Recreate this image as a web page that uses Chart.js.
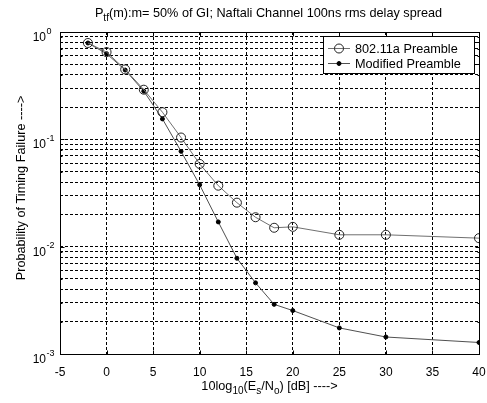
<!DOCTYPE html>
<html>
<head>
<meta charset="utf-8">
<script src="https://cdn.jsdelivr.net/npm/chart.js@4/dist/chart.umd.min.js"></script>
<style>
html,body{margin:0;padding:0;background:#fff;}
#wrap{width:487px;height:403px;position:relative;}
</style>
</head>
<body>
<div id="wrap"><canvas id="c" width="487" height="403"></canvas></div>
<script>
// ---- data ----
const snrDb = [-2, 0, 2, 4, 6, 8, 10, 12, 14, 16, 18, 20, 25, 30, 40];
const preamble80211a = [0.79, 0.65, 0.448, 0.29, 0.179, 0.104, 0.059, 0.037, 0.0257, 0.0188, 0.015, 0.0153, 0.0129, 0.0129, 0.012];
const modifiedPreamble = [0.79, 0.628, 0.442, 0.281, 0.155, 0.0773, 0.0377, 0.017, 0.0078, 0.0046, 0.0029, 0.00254, 0.00175, 0.00144, 0.00128];
const seriesNames = ['802.11a Preamble', 'Modified Preamble'];
const xTickValues = [-5, 0, 5, 10, 15, 20, 25, 30, 35, 40];
const yDecades = [-3, -2, -1, 0];
const yMinorMultipliers = [1, 2, 3, 4, 5, 6, 7, 8, 9];

const FONT = '"Liberation Sans", Arial, sans-serif';
const FS = 12.7;

function toPts(xs, ys){ return xs.map((x,i)=>({x:x, y:ys[i]})); }

function segFont(k, size){ return (k==='n'? size : Math.round(size*0.75)) + 'px ' + FONT; }
function richWidth(ctx, segs, size){
  let w=0; segs.forEach(s=>{ctx.font=segFont(s.k,size); w+=ctx.measureText(s.t).width;}); return w;
}
function drawRich(ctx, segs, x, y, size, align){
  let w = richWidth(ctx, segs, size);
  let cx = align==='center' ? x - w/2 : x;
  ctx.textAlign='left'; ctx.textBaseline='alphabetic';
  segs.forEach(s=>{
    ctx.font=segFont(s.k,size);
    let dy = s.k==='sub' ? size*0.3 : (s.k==='sup' ? -size*0.45 : 0);
    ctx.fillText(s.t, cx, y+dy);
    cx += ctx.measureText(s.t).width;
  });
}

const decor = {
  id:'decor',
  beforeDraw(chart){
    const ctx=chart.ctx; ctx.save(); ctx.fillStyle='#fff'; ctx.fillRect(0,0,chart.width,chart.height); ctx.restore();
  },
  afterDraw(chart){
    const ctx=chart.ctx, a=chart.chartArea, xs=chart.scales.x, ys=chart.scales.y;
    ctx.save();
    ctx.strokeStyle='#000'; ctx.lineWidth=1; ctx.setLineDash([]);
    const l=Math.round(a.left)+0.5, r=Math.round(a.right)+0.5, t=Math.round(a.top)+0.5, b=Math.round(a.bottom)+0.5;
    ctx.strokeRect(l,t,r-l,b-t);
    ctx.beginPath();
    xs.ticks.forEach(tk=>{const px=Math.round(xs.getPixelForValue(tk.value))+0.5; ctx.moveTo(px,b); ctx.lineTo(px,b-4); ctx.moveTo(px,t); ctx.lineTo(px,t+4);});
    ys.ticks.forEach(tk=>{const py=Math.round(ys.getPixelForValue(tk.value))+0.5; const len = (Math.abs(Math.log10(tk.value)%1)<1e-9)?4:2; ctx.moveTo(l,py); ctx.lineTo(l+len,py); ctx.moveTo(r,py); ctx.lineTo(r-len,py);});
    ctx.stroke();
    ctx.fillStyle='#000';
    ctx.font='12px '+FONT; ctx.textAlign='center'; ctx.textBaseline='alphabetic';
    xTickValues.forEach(v=>{ ctx.fillText(String(v), xs.getPixelForValue(v), 376); });
    yDecades.forEach(d=>{
      const py=ys.getPixelForValue(Math.pow(10,d));
      ctx.font='12px '+FONT; ctx.textAlign='right'; ctx.textBaseline='alphabetic';
      ctx.fillText('10', 46, py+9);
      ctx.font='9px '+FONT; ctx.textAlign='left';
      ctx.fillText(String(d), 46.5, py+1.5);
    });
    drawRich(ctx, [{t:'P',k:'n'},{t:'tf',k:'sub'},{t:'(m):m= 50% of GI; Naftali Channel 100ns rms delay spread',k:'n'}], (a.left+a.right)/2 - 1, 17, FS, 'center');
    drawRich(ctx, [{t:'10log',k:'n'},{t:'10',k:'sub'},{t:'(E',k:'n'},{t:'s',k:'sub'},{t:'/N',k:'n'},{t:'o',k:'sub'},{t:') [dB] ---->',k:'n'}], (a.left+a.right)/2, 390, FS, 'center');
    ctx.save(); ctx.translate(25, (a.top+a.bottom)/2 - 5); ctx.rotate(-Math.PI/2);
    ctx.font=FS+'px '+FONT; ctx.textAlign='center'; ctx.textBaseline='alphabetic';
    ctx.fillText('Probability of Timing Failure ---->', 0, 0);
    ctx.restore();
    // legend
    const lx=323.5, ly=36.5, lw=151, lh=37;
    ctx.fillStyle='#fff'; ctx.fillRect(lx,ly,lw,lh);
    ctx.strokeStyle='#000'; ctx.strokeRect(lx,ly,lw,lh);
    const rows=[{y:48.5, ds:chart.data.datasets[0]},{y:63.5, ds:chart.data.datasets[1]}];
    rows.forEach((row,i)=>{
      ctx.strokeStyle=row.ds.borderColor; ctx.lineWidth=1;
      ctx.beginPath(); ctx.moveTo(328,row.y); ctx.lineTo(350,row.y); ctx.stroke();
      ctx.beginPath(); ctx.arc(339,row.y,row.ds.pointRadius,0,Math.PI*2);
      if(i===1){ctx.fillStyle='#000'; ctx.fill();}
      ctx.strokeStyle=row.ds.pointBorderColor; ctx.stroke();
      ctx.fillStyle='#000'; ctx.font=FS+'px '+FONT; ctx.textAlign='left'; ctx.textBaseline='middle';
      ctx.fillText(seriesNames[i], 355, row.y+0.5);
    });
    ctx.restore();
  }
};

new Chart(document.getElementById('c'), {
  type:'line',
  data:{
    datasets:[
      {label:seriesNames[0], data:toPts(snrDb, preamble80211a), borderColor:'#707070', borderWidth:1,
       pointStyle:'circle', pointRadius:4.5, pointBackgroundColor:'rgba(0,0,0,0)', pointBorderColor:'#222', pointBorderWidth:1, tension:0},
      {label:seriesNames[1], data:toPts(snrDb, modifiedPreamble), borderColor:'#505050', borderWidth:1,
       pointStyle:'circle', pointRadius:2, pointBackgroundColor:'#000', pointBorderColor:'#000', pointBorderWidth:1, tension:0}
    ]
  },
  options:{
    responsive:false, animation:false, devicePixelRatio:1,
    layout:{padding:{top:32, right:8, left:0, bottom:0}},
    plugins:{legend:{display:false}, title:{display:false}, tooltip:{enabled:false}},
    scales:{
      x:{type:'linear', min:-5, max:40,
         afterBuildTicks(s){ s.ticks = xTickValues.map(v=>({value:v})); },
         afterFit(s){ s.height = 49; },
         ticks:{display:false},
         grid:{color:'#000', lineWidth:1, drawTicks:false},
         border:{display:false, dash:[3,2]}},
      y:{type:'logarithmic', min:0.001, max:1,
         afterBuildTicks(s){ const t=[]; yDecades.forEach(d=>{ yMinorMultipliers.forEach(m=>{ const v=m*Math.pow(10,d); if(v<=1.0000001) t.push({value:v}); }); }); s.ticks=t; },
         afterFit(s){ s.width = 60; },
         ticks:{display:false},
         grid:{color:'#000', lineWidth:1, drawTicks:false},
         border:{display:false, dash:[3,2]}}
    }
  },
  plugins:[decor]
});
</script>
</body>
</html>
